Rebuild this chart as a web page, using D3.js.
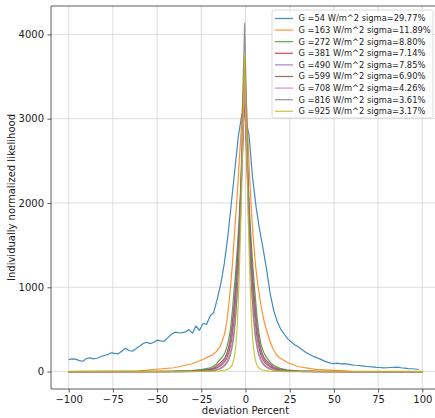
<!DOCTYPE html>
<html>
<head>
<meta charset="utf-8">
<script src="https://cdn.jsdelivr.net/npm/d3@7"></script>
<style>
  body { margin: 0; background: #fff; }
  text { font-family: 'DejaVu Sans', sans-serif; fill: #222; }
</style>
</head>
<body>
<svg id="chart"></svg>
<script>
// x positions of the blue (G=54) series, read every 2 %
const blueX = [-100, -98, -96, -94, -92, -90, -88, -86, -84, -82, -80, -78, -76, -74, -72, -70, -68, -66, -64, -62,
  -60, -58, -56, -54, -52, -50, -48, -46, -44, -42, -40, -38, -36, -34, -32, -30, -28, -26, -24, -22,
  -20, -18, -16, -14, -12, -10, -8, -6, -4, -2, 0, 2, 4, 6, 8, 10, 12, 14, 16, 18,
  20, 22, 24, 26, 28, 30, 32, 34, 36, 38, 40, 42, 44, 46, 48, 50, 52, 54, 56, 58,
  60, 62, 64, 66, 68, 70, 72, 74, 76, 78, 80, 82, 84, 86, 88, 90, 92, 94, 96, 98];
const blueY = [142, 150, 148, 130, 122, 155, 162, 150, 158, 175, 190, 200, 222, 215, 210, 240, 277, 250, 241, 270,
  301, 330, 348, 332, 345, 372, 365, 360, 400, 440, 467, 462, 460, 470, 498, 455, 540, 490, 570, 560,
  660, 700, 860, 1040, 1280, 1600, 2000, 2400, 2800, 3060, 3020, 2800, 2300, 1950, 1680, 1450, 1200, 920, 720, 590,
  500, 440, 385, 350, 315, 290, 260, 230, 205, 185, 165, 150, 130, 115, 100, 95, 100, 92, 95, 88,
  80, 75, 72, 68, 62, 58, 56, 50, 48, 44, 45, 48, 50, 52, 45, 40, 35, 33, 30, 24];

// x positions shared by the narrower series (dense near the peak)
const peakX = [-100, -60.5, -40.5, -30.5, -24.5, -20.5, -18.5, -16.5, -14.5, -12.5, -11.5, -10.5, -9.5, -8.5,
  -7.5, -6.5, -5.5, -4.5, -3.5, -2.5, -1.5, -0.5,
  0.5, 1.5, 2.5, 3.5, 4.5, 5.5, 6.5, 7.5, 8.5, 9.5, 10.5, 11.5, 13.5, 15.5, 17.5, 19.5, 23.5, 29.5, 39.5, 59.5, 100];

const orangeY = [3, 8, 45, 90, 140, 180, 200, 240, 290, 400, 480, 600, 780, 1000, 1250, 1550, 1850, 2150, 2500, 2850, 3250, 3700,
  3200, 2700, 2250, 1850, 1550, 1300, 1100, 950, 820, 700, 600, 520, 380, 270, 200, 160, 110, 60, 25, 6, 2];
const greenY = [0, 1, 4, 12, 25, 40, 60, 90, 140, 190, 230, 290, 380, 500, 700, 950, 1200, 1500, 1850, 2300, 2800, 3400,
  2800, 2250, 1800, 1450, 1150, 900, 650, 470, 350, 270, 220, 180, 120, 80, 55, 38, 20, 8, 2, 0, 0];
const redY = [0, 0, 2, 6, 15, 25, 40, 65, 100, 140, 170, 220, 290, 400, 560, 780, 1050, 1350, 1700, 2150, 2700, 3300,
  2650, 2100, 1650, 1300, 1000, 750, 540, 390, 280, 210, 165, 135, 95, 60, 38, 24, 12, 4, 1, 0, 0];
const purpleY = [0, 0, 1, 5, 12, 25, 35, 50, 80, 120, 150, 200, 260, 360, 500, 720, 1000, 1350, 1750, 2200, 2800, 3500,
  2750, 2150, 1700, 1300, 950, 690, 480, 350, 250, 190, 145, 115, 75, 48, 32, 22, 10, 4, 1, 0, 0];
const brownY = [0, 0, 0, 3, 10, 18, 26, 40, 60, 100, 125, 160, 220, 300, 420, 600, 850, 1200, 1650, 2200, 2850, 3600,
  2800, 2150, 1600, 1150, 820, 580, 400, 290, 210, 155, 120, 95, 58, 38, 26, 17, 8, 2, 0, 0, 0];
const pinkY = [0, 0, 0, 1, 5, 10, 15, 22, 40, 70, 90, 120, 170, 230, 330, 480, 700, 1000, 1450, 2000, 2700, 3450,
  2650, 1950, 1400, 960, 670, 460, 320, 225, 165, 118, 90, 68, 40, 24, 16, 10, 4, 1, 0, 0, 0];
const grayY = [0, 0, 0, 1, 4, 8, 12, 18, 30, 55, 75, 100, 140, 200, 290, 430, 650, 1000, 1550, 2300, 3300, 4130,
  3200, 2250, 1500, 980, 640, 420, 285, 195, 138, 98, 75, 55, 30, 18, 12, 8, 3, 1, 0, 0, 0];
const oliveY = [0, 0, 0, 0, 1, 2, 3, 5, 8, 14, 18, 22, 32, 48, 80, 150, 300, 600, 1150, 1900, 2900, 3750,
  2850, 1850, 1100, 560, 280, 140, 75, 44, 30, 20, 15, 11, 6, 3, 2, 1, 0, 0, 0, 0, 0];

const labels = [
  'G =54 W/m^2 sigma=29.77%',
  'G =163 W/m^2 sigma=11.89%',
  'G =272 W/m^2 sigma=8.80%',
  'G =381 W/m^2 sigma=7.14%',
  'G =490 W/m^2 sigma=7.85%',
  'G =599 W/m^2 sigma=6.90%',
  'G =708 W/m^2 sigma=4.26%',
  'G =816 W/m^2 sigma=3.61%',
  'G =925 W/m^2 sigma=3.17%',
];
const xTicks = [-100, -75, -50, -25, 0, 25, 50, 75, 100];
const yTicks = [0, 1000, 2000, 3000, 4000];

const colors = ['#1f77b4', '#ff7f0e', '#2ca02c', '#d62728', '#9467bd', '#8c564b', '#e377c2', '#7f7f7f', '#bcbd22'];

const seriesX = [blueX, peakX, peakX, peakX, peakX, peakX, peakX, peakX, peakX];
const seriesY = [blueY, orangeY, greenY, redY, purpleY, brownY, pinkY, grayY, oliveY];
const series = labels.map((label, i) => ({
  label,
  color: colors[i],
  points: seriesX[i].map((x, j) => [x, seriesY[i][j]]),
}));

const width = 435;
const height = 418;
const margin = { top: 6, right: -5, bottom: 29, left: 51 };

const svg = d3.select('#chart')
  .attr('width', width)
  .attr('height', height)
  .attr('viewBox', [0, 0, width, height]);

const x = d3.scaleLinear()
  .domain([-110, 110])
  .range([margin.left, width - margin.right]);

const y = d3.scaleLinear()
  .domain([-207, 4337])
  .range([height - margin.bottom, margin.top]);

svg.append('defs').append('clipPath').attr('id', 'clip')
  .append('rect')
  .attr('x', margin.left)
  .attr('y', margin.top)
  .attr('width', width - margin.right - margin.left)
  .attr('height', height - margin.bottom - margin.top);

// grid
const grid = svg.append('g');
grid.selectAll('.gx')
  .data(xTicks)
  .join('line')
  .attr('x1', d => x(d)).attr('x2', d => x(d))
  .attr('y1', margin.top).attr('y2', height - margin.bottom)
  .attr('stroke', '#d4d4d4')
  .attr('stroke-width', 0.8);
grid.selectAll('.gy')
  .data(yTicks)
  .join('line')
  .attr('class', 'gy')
  .attr('x1', margin.left).attr('x2', width - margin.right)
  .attr('y1', d => y(d)).attr('y2', d => y(d))
  .attr('stroke', '#d4d4d4')
  .attr('stroke-width', 0.8);

// lines
const line = d3.line()
  .x(d => x(d[0]))
  .y(d => y(d[1]));

svg.append('g')
  .attr('clip-path', 'url(#clip)')
  .selectAll('path')
  .data(series)
  .join('path')
  .attr('d', d => line(d.points))
  .attr('fill', 'none')
  .attr('stroke', d => d.color)
  .attr('stroke-opacity', 0.85)
  .attr('stroke-width', 1.2)
  .attr('stroke-linejoin', 'round');

// axes
const fmt = d => (d < 0 ? '\u2212' + Math.abs(d) : String(d));

const xAxis = svg.append('g')
  .attr('transform', `translate(0,${height - margin.bottom})`)
  .call(d3.axisBottom(x).tickValues(xTicks).tickFormat(fmt).tickSize(3.5).tickPadding(3.5));

const yAxis = svg.append('g')
  .attr('transform', `translate(${margin.left},0)`)
  .call(d3.axisLeft(y).tickValues(yTicks).tickFormat(fmt).tickSize(3.5).tickPadding(3.5));

[xAxis, yAxis].forEach(a => {
  a.select('.domain').attr('stroke', '#333').attr('stroke-width', 0.8);
  a.selectAll('.tick line').attr('stroke', '#333').attr('stroke-width', 0.8);
  a.selectAll('.tick text')
    .attr('font-size', 10)
    .attr('font-family', 'DejaVu Sans')
    .attr('fill', '#222');
});
xAxis.select('.domain').attr('d', `M${margin.left},0H${width - margin.right}`);
yAxis.select('.domain').attr('d', `M0,${margin.top}V${height - margin.bottom}`);

svg.append('line')
  .attr('x1', margin.left).attr('x2', width - margin.right)
  .attr('y1', margin.top).attr('y2', margin.top)
  .attr('stroke', '#333').attr('stroke-width', 0.8);

svg.append('text')
  .attr('x', x(0))
  .attr('y', 414)
  .attr('text-anchor', 'middle')
  .attr('font-size', 10)
  .text('deviation Percent');

svg.append('text')
  .attr('transform', `translate(15,${y(2065)}) rotate(-90)`)
  .attr('text-anchor', 'middle')
  .attr('font-size', 10)
  .text('Individually normalized likelihood');

// legend
const lg = svg.append('g').attr('transform', 'translate(272,10)');
lg.append('rect')
  .attr('width', 161)
  .attr('height', 108)
  .attr('rx', 2)
  .attr('fill', '#fff')
  .attr('fill-opacity', 0.8)
  .attr('stroke', '#d0d0d0')
  .attr('stroke-width', 0.8);

const items = lg.selectAll('.item')
  .data(series)
  .join('g')
  .attr('class', 'item')
  .attr('transform', (d, i) => `translate(0,${8.5 + i * 11.6})`);

items.append('line')
  .attr('x1', 3).attr('x2', 21)
  .attr('stroke', d => d.color)
  .attr('stroke-opacity', 0.85)
  .attr('stroke-width', 1.2);

items.append('text')
  .attr('x', 26.5)
  .attr('dy', '0.35em')
  .attr('font-size', 8.3)
  .text(d => d.label);
</script>
</body>
</html>
